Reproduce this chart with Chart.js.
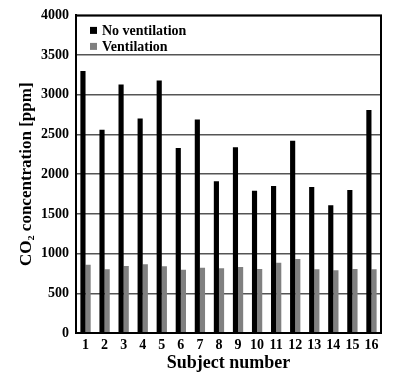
<!DOCTYPE html>
<html>
<head>
<meta charset="utf-8">
<script src="https://cdn.jsdelivr.net/npm/chart.js@4/dist/chart.umd.min.js"></script>
<style>
html,body{margin:0;padding:0;background:#fff;}
#wrap{width:400px;height:380px;}
</style>
</head>
<body>
<div id="wrap"><canvas id="c" width="400" height="380"></canvas></div>
<script>
const subjects = ['1','2','3','4','5','6','7','8','9','10','11','12','13','14','15','16'];
const noVentilation = [3300,2560,3130,2700,3180,2330,2690,1910,2340,1790,1850,2420,1840,1610,1800,2810];
const ventilation = [858,802,845,866,841,798,823,815,832,806,884,931,802,789,806,802];
const seriesNames = ['No ventilation','Ventilation'];
const seriesColors = ['#000000','#808080'];
const yTitle = 'CO\u2082 concentration [ppm]';
const xTitle = 'Subject number';

const FONT = "'Liberation Serif','Times New Roman',serif";

const boxAndLegend = {
  id:'boxAndLegend',
  afterDraw(chart){
    const {ctx, chartArea:a} = chart;
    ctx.save();
    ctx.strokeStyle = '#000';
    ctx.lineWidth = 2;
    ctx.strokeRect(a.left, a.top, a.right-a.left, a.bottom-a.top);
    ctx.font = "bold 14px " + FONT;
    ctx.textBaseline = 'middle';
    seriesNames.forEach((n,i)=>{
      const y = a.top + 15 + i*16;
      ctx.fillStyle = seriesColors[i];
      ctx.fillRect(a.left + 14, y-3.5, 7, 7);
      ctx.fillStyle = '#000';
      ctx.fillText(n, a.left + 26, y+1);
    });
    ctx.restore();
  }
};

new Chart(document.getElementById('c'), {
  type:'bar',
  data:{
    labels: subjects,
    datasets:[
      {label:seriesNames[0], data:noVentilation, backgroundColor:seriesColors[0], categoryPercentage:0.54, barPercentage:1.0},
      {label:seriesNames[1], data:ventilation, backgroundColor:seriesColors[1], categoryPercentage:0.54, barPercentage:1.0}
    ]
  },
  options:{
    responsive:false,
    animation:false,
    layout:{padding:{left:16, right:19, top:10, bottom:6}},
    plugins:{legend:{display:false}, tooltip:{enabled:false}},
    scales:{
      x:{
        grid:{display:false, drawTicks:false},
        border:{display:true, color:'#000', width:2},
        ticks:{color:'#000', font:{family:FONT, weight:'bold', size:14}, padding:4, autoSkip:false, maxRotation:0, minRotation:0},
        title:{display:true, text:xTitle, color:'#000', font:{family:FONT, weight:'bold', size:18}, padding:{top:0,bottom:0}},
        afterFit(s){ s.height = 41; }
      },
      y:{
        min:0, max:4000,
        ticks:{stepSize:500, color:'#000', font:{family:FONT, weight:'bold', size:14}, padding:7, callback:(v)=>String(v)},
        grid:{color:'#555', lineWidth:1.5, drawTicks:false},
        border:{display:true, color:'#000', width:2},
        title:{display:true, text:yTitle, color:'#000', font:{family:FONT, weight:'bold', size:17}, padding:{top:0,bottom:4}},
        afterFit(s){ s.width = 60; }
      }
    }
  },
  plugins:[boxAndLegend]
});
</script>
</body>
</html>
